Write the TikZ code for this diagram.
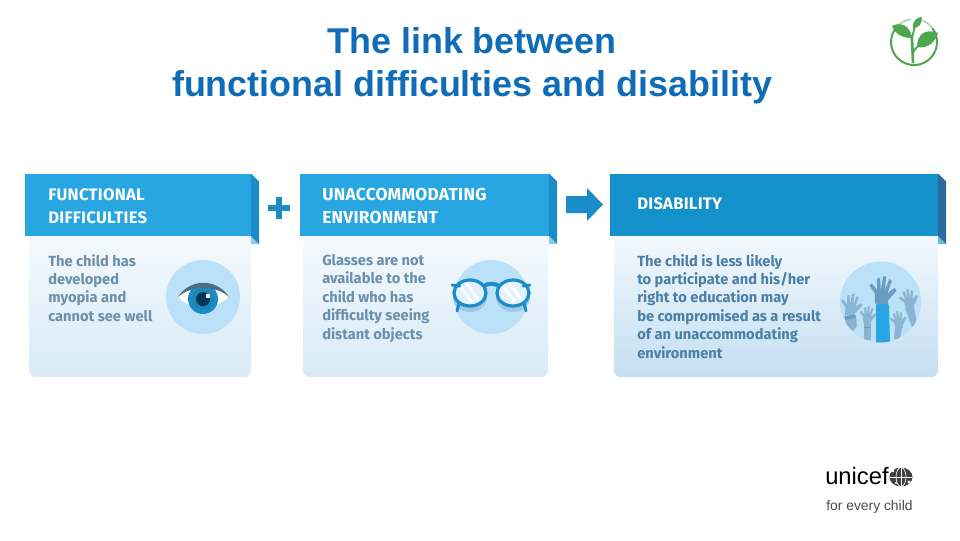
\documentclass[tikz,border=0pt]{standalone}
\usepackage{fontspec}
\setmainfont{Liberation Sans}
\newfontfamily\fira{Fira Sans}
\newfontfamily\firawide[LetterSpace=1.5]{Fira Sans}
\usetikzlibrary{shadings}
\definecolor{hdrA}{HTML}{27A6E1}
\definecolor{hdrB}{HTML}{1490CB}
\definecolor{foldA}{HTML}{1A8CC8}
\definecolor{foldB}{HTML}{2A6A9E}
\definecolor{tipA}{HTML}{8CCBEC}
\definecolor{bodyT}{HTML}{F6FBFE}
\definecolor{bodyB}{HTML}{D8EAF6}
\definecolor{bodyC}{HTML}{C4DEF1}
\definecolor{txtA}{HTML}{6C8FAB}
\definecolor{txtB}{HTML}{4A7FA6}
\definecolor{disc}{HTML}{BBE1F8}
\definecolor{titleblue}{HTML}{0F6CB6}
\definecolor{leaf}{HTML}{4DA74F}
\definecolor{handA}{HTML}{6C9CC0}
\definecolor{handB}{HTML}{8AB4D2}
\tikzset{
  x=0.75pt,y=-0.75pt,
  titletext/.style={font=\bfseries\fontsize{26.9pt}{32.4pt}\selectfont,text=titleblue,inner sep=0,align=center},
  headtext/.style={font=\firawide\bfseries\fontsize{12.5pt}{17pt}\selectfont,text=white,inner sep=0,anchor=west,align=left},
  headwide/.style={font=\firawide\bfseries\fontsize{13pt}{17pt}\selectfont,text=white,inner sep=0,anchor=west,align=left},
  bodytext/.style={font=\fira\fontsize{11pt}{13.8pt}\selectfont\bfseries,text=txtA,inner sep=0,anchor=north west,align=left},
  lens/.style={draw=foldA,line width=2.4pt}
}
\newcommand{\handshape}[1]{%
  \fill[#1] (-5.5,2) -- (-6.5,-7) -- (-12.5,-14) -- (-10.5,-16) -- (-4.8,-10.5) -- (-6.5,-21) -- (-3.6,-22) -- (-1.5,-11) -- (-0.9,-24) -- (1.9,-24) -- (2.2,-11) -- (5,-22) -- (7.6,-20.8) -- (5,-9) -- (11,-14.5) -- (13,-12) -- (6,-2) -- (5.5,2) -- cycle;}
\begin{document}
\begin{tikzpicture}
\useasboundingbox (0,0) rectangle (960,540);
\fill[white] (0,0) rectangle (960,540);
% title
\node[titletext] (title) at (472,62) [yshift=-2.6pt] {The link between\\functional difficulties and disability};
% panel 1
\shade[top color=bodyT,bottom color=bodyB,rounded corners=5pt] (29,225) rectangle (251,377);
\fill[hdrA] (25,173.5) -- (251,173.5) -- (251,236) -- (25,236) -- cycle;
\fill[tipA] (251,236) -- (259,244) -- (251,244) -- cycle;
\fill[foldA] (251,173.5) -- (259,181.5) -- (259,244) -- (251,236) -- cycle;
\node[headtext] (h1) at (48,206) {FUNCTIONAL\\DIFFICULTIES};
\node[bodytext] (b1) at (48,254) {The child has\\developed\\myopia and\\cannot see well};
\fill[disc] (203,297) circle (37);
\fill[white] (178,297) .. controls (190,283) and (216,283) .. (229,296) .. controls (216,311) and (190,311) .. (178,297) -- cycle;
\fill[foldA] (203,299) circle (15);
\fill[hdrA!80!black] (203,299) circle (11);
\fill[titleblue!50!black] (203,299) circle (7);
\fill[white] (208,296) circle (2.2);
\fill[handA!70!black] (178,297) .. controls (190,278) and (217,278) .. (229,297) .. controls (216,285) and (191,285) .. (178,297) -- cycle;
% plus
\fill[foldA] (275.5,197) rectangle (281.5,219);
\fill[foldA] (267.5,205) rectangle (289.5,211);
% panel 2
\shade[top color=bodyT,bottom color=bodyB,rounded corners=5pt] (303,225) rectangle (548,377);
\fill[hdrA] (299.5,173.5) -- (549,173.5) -- (549,236) -- (299.5,236) -- cycle;
\fill[tipA] (549,236) -- (557,244) -- (549,244) -- cycle;
\fill[foldA] (549,173.5) -- (557,181.5) -- (557,244) -- (549,236) -- cycle;
\node[headwide] (h2) at (322,206) {UNACCOMMODATING\\ENVIRONMENT};
\node[bodytext] (b2) at (322,254) {Glasses are not\\available to the\\child who has\\difficulty seeing\\distant objects};
\fill[disc] (491,297) circle (37);
% lens shadows
\fill[handB!55!disc] (470,297) ellipse (17 and 15);
\fill[handB!55!disc] (513,297) ellipse (17 and 15);
% glass lenses
\fill[bodyT!65!disc] (470,293) ellipse (16 and 13);
\fill[bodyT!65!disc] (513,293) ellipse (16 and 13);
\draw[white,line width=2pt] (460,286) -- (472,302) (466,283) -- (480,302);
\draw[white,line width=2pt] (503,286) -- (515,302) (509,283) -- (523,302);
\draw[foldA,line width=2.2pt,line cap=round] (452,285) -- (460,286);
\draw[foldA,line width=2.2pt,line cap=round] (530,285) -- (523,286);
\draw[foldA,line width=2.2pt,line cap=round] (459,303) -- (457,311);
\draw[foldA,line width=2.2pt,line cap=round] (524,303) -- (526,311);
\draw[lens] (470,293) ellipse (16 and 13);
\draw[lens] (513,293) ellipse (16 and 13);
\draw[foldA,line width=3pt] (484,286) .. controls (488,283) and (495,283) .. (499,286);
% arrow
\fill[foldA] (566,196) -- (587,196) -- (587,188) -- (603,204.5) -- (587,221) -- (587,213) -- (566,213) -- cycle;
% panel 3
\shade[top color=bodyT,bottom color=bodyC,rounded corners=5pt] (614,225) rectangle (938,377);
\fill[hdrB] (609.5,173.5) -- (938,173.5) -- (938,236) -- (609.5,236) -- cycle;
\fill[tipA!70!foldA] (938,236) -- (946,244) -- (938,244) -- cycle;
\fill[foldB] (938,173.5) -- (946,181.5) -- (946,244) -- (938,236) -- cycle;
\node[headtext] (h3) at (637,204) {DISABILITY};
\node[bodytext,text=txtB] (b3) at (637,254) {The child is less likely\\to participate and his/her\\right to education may\\be compromised as a result\\of an unaccommodating\\environment};
\fill[disc] (880.5,302) circle (40.5);
\begin{scope}
\clip (880.5,302) circle (40.5);
\begin{scope}[shift={(850,314)},rotate=-8,scale=0.85]\handshape{handB}\end{scope}
\fill[handB] (845,316) -- (856,315) -- (857,326) -- (853,331) -- (846,326) -- cycle;
\fill[handA] (844.5,316) -- (855.5,315) -- (855.5,318) -- (845,320) -- cycle;
\begin{scope}[shift={(867,322)},rotate=-6,scale=0.66]\handshape{handB}\end{scope}
\fill[handB] (864,323) rectangle (871,340);
\fill[handA] (864,326.5) rectangle (871,328);
\begin{scope}[shift={(910,307)},rotate=10,scale=0.75]\handshape{handB}\end{scope}
\fill[handB] (905,308) -- (914,308) -- (917,323) -- (912,327) -- cycle;
\begin{scope}[shift={(899,327)},rotate=8,scale=0.66]\handshape{handB}\end{scope}
\fill[handB] (895,328) -- (902,328) -- (900,339) -- (894,339) -- cycle;
\begin{scope}[shift={(881,302)},rotate=-7,scale=1.08]\handshape{handA}\end{scope}
\fill[handA] (876,300) -- (887,300) -- (889,306) -- (876,306) -- cycle;
\fill[hdrA] (876,306) .. controls (880,303) and (886,303) .. (889,306) -- (890,342) -- (876,343) -- cycle;
\end{scope}
% plant logo
\draw[leaf,line width=1.5pt] (932.4,28.2) arc (-37:225:23);
\draw[leaf!55,line width=1pt] (897.7,25.7) arc (225:262:23);
\draw[leaf!55,line width=1pt] (923,20.8) arc (293:323:23);
\draw[leaf,line width=2pt] (913,63) .. controls (912.5,52) and (912.5,44) .. (911.5,35);
\draw[leaf,line width=1.4pt] (912,38) .. controls (913,33) and (914,30) .. (915,26);
\draw[leaf,line width=1.4pt] (913,53) .. controls (914,50) and (917,47) .. (920,44);
\fill[leaf] (892,26) .. controls (899,22) and (910,24) .. (912,38) .. controls (903,38) and (896,35) .. (892,26) -- cycle;
\fill[leaf] (922,17) .. controls (917,17) and (912,21) .. (913,28) .. controls (919,28) and (922,24) .. (922,17) -- cycle;
\fill[leaf] (938,33) .. controls (926,28) and (917,34) .. (917,47) .. controls (927,49) and (935,43) .. (938,33) -- cycle;
% unicef logo
\node[font=\fontsize{17.8pt}{20pt}\selectfont,inner sep=0,anchor=base west,text=black] (uni) at (825,484) {unicef};
\fill[black!75] (901,477) ellipse (11.5 and 9.5);
\draw[white,line width=.5pt] (901,477) ellipse (5 and 9.5);
\draw[white,line width=.5pt] (890,477) -- (912,477) (901,468) -- (901,486);
\fill[white] (893,471) circle (1.4) (909,482) circle (1.6) (896,483) circle (1.2);
\node[font=\fontsize{10.4pt}{12pt}\selectfont,inner sep=0,anchor=base west,text=black!70] (fec) at (826,510) {for every child};
\end{tikzpicture}
\end{document}
